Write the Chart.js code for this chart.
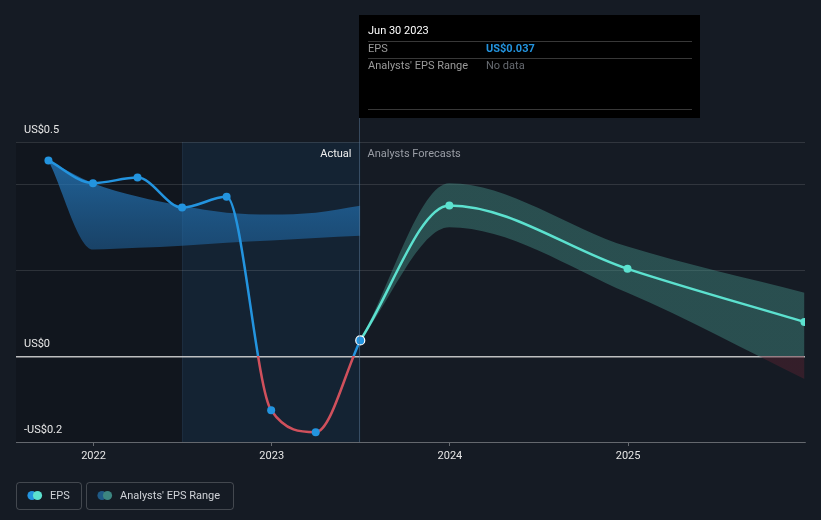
<!DOCTYPE html>
<html>
<head>
<meta charset="utf-8">
<script src="https://cdn.jsdelivr.net/npm/chart.js@4/dist/chart.umd.min.js"></script>
<style>
  html, body { margin: 0; padding: 0; background: #151b24; }
  #wrap { position: relative; width: 821px; height: 520px; }
  canvas { display: block; }
</style>
</head>
<body>
<div id="wrap"><canvas id="c" width="821" height="520"></canvas></div>
<script>
// ---- Data (decimal years / US$ EPS) ----
const actualDates = [2021.747, 2021.997, 2022.247, 2022.497, 2022.747, 2022.997, 2023.247, 2023.497];
const actualEps   = [0.457, 0.404, 0.417, 0.347, 0.372, -0.126, -0.177, 0.037];
const pastRangeLow  = [0.457, 0.249, 0.253, 0.258, 0.265, 0.270, 0.276, 0.281];
const pastRangeHigh = [0.457, 0.404, 0.373, 0.351, 0.335, 0.331, 0.335, 0.351];

const forecastDates = [2023.497, 2023.997, 2024.997, 2025.99];
const forecastEps   = [0.037, 0.352, 0.204, 0.080];
const forecastLow   = [0.037, 0.301, 0.148, -0.053];
const forecastHigh  = [0.037, 0.404, 0.256, 0.148];

const xTickYears = [2022, 2023, 2024, 2025];
const yLabelValues = [0.5, 0, -0.2];
const yLabelTexts  = ['US$0.5', 'US$0', '-US$0.2'];

const highlightStart = 2022.497;
const actualEnd = 2023.497;
const tooltipTitle = 'Jun 30 2023';
const tooltipEps = 'US$0.037';

const FONT = 'Roboto, "Noto Sans", sans-serif';
const BLUE = '#2394df';
const RED = '#d0505c';
const TEAL = '#5ce1cf';

const toXY = (xs, ys) => xs.map((x, i) => ({ x: x, y: ys[i] }));

function zeroSplit(chart, above, below) {
  const ca = chart.chartArea;
  if (!ca) return above;
  const y0 = chart.scales.y.getPixelForValue(0);
  const g = chart.ctx.createLinearGradient(0, ca.top, 0, ca.bottom);
  let s = (y0 - ca.top) / (ca.bottom - ca.top);
  s = Math.min(1, Math.max(0, s));
  g.addColorStop(0, above); g.addColorStop(s, above);
  g.addColorStop(s, below); g.addColorStop(1, below);
  return g;
}
function pastBandFill(chart) {
  const ca = chart.chartArea;
  if (!ca) return 'rgba(35,120,190,0.5)';
  const y = chart.scales.y;
  const g = chart.ctx.createLinearGradient(0, y.getPixelForValue(0.46), 0, y.getPixelForValue(0.25));
  g.addColorStop(0, 'rgba(38,125,195,0.75)');
  g.addColorStop(1, 'rgba(33,110,175,0.5)');
  return g;
}

const bgPlugin = {
  id: 'bg',
  beforeDraw(chart) {
    const { ctx, chartArea: ca, scales } = chart;
    ctx.save();
    ctx.fillStyle = '#151b24';
    ctx.fillRect(0, 0, chart.width, chart.height);
    const xh = scales.x.getPixelForValue(highlightStart);
    const xa = scales.x.getPixelForValue(actualEnd);
    ctx.fillStyle = '#11161e';
    ctx.fillRect(ca.left, ca.top, xh - ca.left, ca.bottom - ca.top);
    ctx.fillStyle = '#142333';
    ctx.fillRect(xh, ca.top, xa - xh, ca.bottom - ca.top);
    ctx.strokeStyle = 'rgba(80,110,140,0.15)';
    ctx.lineWidth = 1;
    ctx.beginPath();
    ctx.moveTo(Math.round(xh) + 0.5, ca.top); ctx.lineTo(Math.round(xh) + 0.5, ca.bottom);
    ctx.stroke();
    ctx.restore();
  },
  afterDraw(chart) {
    const { ctx, chartArea: ca, scales } = chart;
    const xa = Math.round(scales.x.getPixelForValue(actualEnd)) - 0.5;
    ctx.save();
    // vertical "now" line
    ctx.strokeStyle = 'rgba(90,120,150,0.5)';
    ctx.lineWidth = 1;
    ctx.beginPath(); ctx.moveTo(xa, 15); ctx.lineTo(xa, ca.bottom); ctx.stroke();

    // y labels
    ctx.font = '11px ' + FONT;
    ctx.fillStyle = '#e8e8e8';
    ctx.textBaseline = 'middle';
    ctx.textAlign = 'left';
    yLabelValues.forEach((v, i) => {
      const py = scales.y.getPixelForValue(v);
      ctx.fillText(yLabelTexts[i], 24, py - 12);
    });

    // Actual / Analysts Forecasts
    const ty = ca.top + 12;
    ctx.textAlign = 'right';
    ctx.fillStyle = '#f0f0f0';
    ctx.fillText('Actual', xa - 8, ty);
    ctx.textAlign = 'left';
    ctx.fillStyle = '#9a9ea6';
    ctx.fillText('Analysts Forecasts', xa + 8, ty);

    // tooltip box
    const bx = xa - 0.5, by = 15, bw = 341, bh = 103;
    ctx.fillStyle = '#000000';
    ctx.fillRect(bx, by, bw, bh);
    ctx.strokeStyle = 'rgba(255,255,255,0.22)';
    ctx.lineWidth = 1;
    [41.5, 58.5, 109.5].forEach(yy => {
      ctx.beginPath(); ctx.moveTo(bx + 9, yy); ctx.lineTo(bx + bw - 8, yy); ctx.stroke();
    });
    ctx.font = '11px ' + FONT;
    ctx.fillStyle = '#ffffff';
    ctx.fillText(tooltipTitle, bx + 9, 31);
    ctx.fillStyle = '#9a9a9a';
    ctx.fillText('EPS', bx + 9, 49.5);
    ctx.fillText("Analysts' EPS Range", bx + 9, 66.5);
    ctx.font = 'bold 11px ' + FONT;
    ctx.fillStyle = BLUE;
    ctx.fillText(tooltipEps, bx + 127, 49.5);
    ctx.font = '11px ' + FONT;
    ctx.fillStyle = '#666a70';
    ctx.fillText('No data', bx + 127, 66.5);

    // legend
    const drawBox = (x, w) => {
      ctx.strokeStyle = 'rgba(255,255,255,0.2)';
      ctx.lineWidth = 1;
      ctx.beginPath();
      if (ctx.roundRect) ctx.roundRect(x + 0.5, 482.5, w, 27, 3); else ctx.rect(x + 0.5, 482.5, w, 27);
      ctx.stroke();
    };
    const dot = (x, c) => { ctx.fillStyle = c; ctx.beginPath(); ctx.arc(x, 495.5, 4.6, 0, Math.PI * 2); ctx.fill(); };
    drawBox(16, 65);
    dot(32, BLUE); dot(37.5, TEAL);
    ctx.fillStyle = '#d0d3d8';
    ctx.textBaseline = 'middle';
    ctx.fillText('EPS', 50, 496);
    drawBox(86, 147);
    dot(102, '#1f5a86'); dot(107.5, '#3c8580');
    ctx.fillStyle = '#d0d3d8';
    ctx.fillText("Analysts' EPS Range", 120, 496);
    ctx.restore();
  }
};

new Chart(document.getElementById('c'), {
  type: 'line',
  data: {
    datasets: [
      { // past range high
        data: toXY(actualDates, pastRangeHigh),
        borderWidth: 0, pointRadius: 0, cubicInterpolationMode: 'monotone',
        fill: '+1', backgroundColor: (c) => pastBandFill(c.chart), order: 5
      },
      { // past range low
        data: toXY(actualDates, pastRangeLow),
        borderWidth: 0, pointRadius: 0, cubicInterpolationMode: 'monotone',
        fill: false, order: 5
      },
      { // forecast high
        data: toXY(forecastDates, forecastHigh),
        borderWidth: 0, pointRadius: 0, cubicInterpolationMode: 'monotone',
        fill: '+1',
        backgroundColor: (c) => zeroSplit(c.chart, 'rgba(70,150,140,0.42)', 'rgba(95,35,50,0.42)'),
        order: 5
      },
      { // forecast low
        data: toXY(forecastDates, forecastLow),
        borderWidth: 0, pointRadius: 0, cubicInterpolationMode: 'monotone',
        fill: false, order: 5
      },
      { // forecast EPS
        label: 'Forecast',
        data: toXY(forecastDates, forecastEps),
        borderColor: TEAL, borderWidth: 2.5, cubicInterpolationMode: 'monotone',
        pointRadius: forecastDates.map((d, i) => i === 0 ? 0 : 4),
        pointBackgroundColor: TEAL, pointBorderWidth: 0, fill: false, order: 2
      },
      { // actual EPS
        label: 'EPS',
        data: toXY(actualDates, actualEps),
        borderColor: (c) => zeroSplit(c.chart, BLUE, RED), borderWidth: 2.5,
        cubicInterpolationMode: 'monotone',
        pointRadius: actualDates.map((d, i) => i === actualDates.length - 1 ? 4.5 : 4),
        pointBackgroundColor: BLUE,
        pointBorderColor: actualDates.map((d, i) => i === actualDates.length - 1 ? '#ffffff' : BLUE),
        pointBorderWidth: actualDates.map((d, i) => i === actualDates.length - 1 ? 1.2 : 0),
        fill: false, order: 1
      }
    ]
  },
  options: {
    responsive: false,
    animation: false,
    events: [],
    layout: { padding: { left: 16, right: 16, top: 142, bottom: 48 } },
    plugins: { legend: { display: false }, tooltip: { enabled: false } },
    scales: {
      x: {
        type: 'linear',
        min: 2021.565, max: 2025.993,
        afterBuildTicks: (s) => { s.ticks = xTickYears.map(v => ({ value: v })); },
        afterFit: (s) => { s.height = 30; },
        ticks: { color: '#e6e6e6', font: { family: FONT, size: 11 }, padding: 4, callback: (v) => String(v), maxRotation: 0 },
        grid: { drawOnChartArea: false, drawTicks: true, tickLength: 4, color: 'rgba(255,255,255,0.35)' },
        border: { display: true, color: 'rgba(255,255,255,0.25)' }
      },
      y: {
        min: -0.2, max: 0.5,
        ticks: { display: false, stepSize: 0.2 },
        afterFit: (s) => { s.width = 0; },
        grid: {
          drawTicks: false,
          color: (c) => c.tick && c.tick.value === 0 ? 'rgba(220,220,220,0.85)' : 'rgba(255,255,255,0.12)',
          lineWidth: (c) => c.tick && c.tick.value === 0 ? 1.5 : 1
        },
        border: { display: false }
      }
    }
  },
  plugins: [bgPlugin]
});
</script>
</body>
</html>
